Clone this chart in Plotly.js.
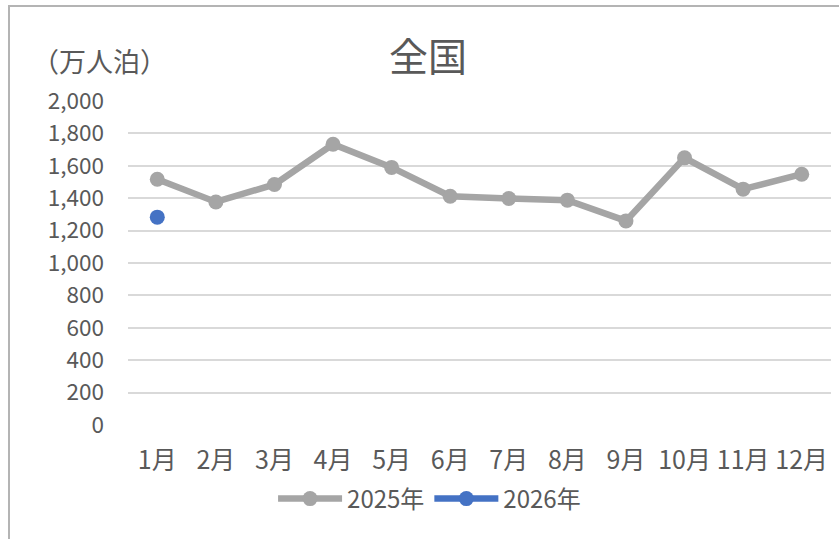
<!DOCTYPE html>
<html>
<head>
<meta charset="utf-8">
<script src="https://cdn.plot.ly/plotly-3.0.1.min.js"></script>
<style>
html,body{margin:0;padding:0;background:#fff;}
#chart{width:839px;height:539px;}
</style>
</head>
<body>
<div id="chart"></div>
<script>
const months = ["1月","2月","3月","4月","5月","6月","7月","8月","9月","10月","11月","12月"];
const values2025 = [1517, 1377, 1485, 1733, 1590, 1412, 1398, 1388, 1260, 1649, 1456, 1548];
const months2026 = ["1月"];
const values2026 = [1283];
const yTicks = [0, 200, 400, 600, 800, 1000, 1200, 1400, 1600, 1800, 2000];

const FONT = '"Noto Sans CJK JP", "Noto Sans", sans-serif';
const TXT = '#595959';

const traces = [
  {
    x: months, y: values2025, name: '2025年', type: 'scatter', mode: 'lines+markers',
    line: {color: '#A5A5A5', width: 6.5},
    marker: {color: '#A5A5A5', size: 15}
  },
  {
    x: months2026, y: values2026, name: '2026年', type: 'scatter', mode: 'lines+markers',
    line: {color: '#4472C4', width: 6.5},
    marker: {color: '#4472C4', size: 15}
  }
];

const layout = {
  width: 839, height: 539,
  margin: {l: 128, r: 8, t: 101, b: 114},
  paper_bgcolor: '#ffffff', plot_bgcolor: '#ffffff',
  font: {family: FONT, color: TXT, size: 24},
  showlegend: true,
  title: {text: '全国', font: {family: FONT, size: 39, color: TXT}, xref: 'container', x: 0.51, xanchor: 'center', yref: 'container', y: 1 - 57/539, yanchor: 'middle'},
  xaxis: {
    type: 'category', categoryorder: 'array', categoryarray: months, range: [-0.5, 11.5],
    showgrid: false, zeroline: false, showline: false, ticks: '',
    tickfont: {family: FONT, size: 25, color: TXT},
    ticklabelstandoff: 18, fixedrange: true
  },
  yaxis: {
    range: [0, 2000], tickvals: yTicks, ticktext: yTicks.map(v => v.toLocaleString('en-US')),
    showgrid: true, gridcolor: '#D9D9D9', gridwidth: 2,
    zeroline: false, showline: false, ticks: '',
    tickfont: {family: FONT, size: 22.5, color: TXT},
    ticklabelstandoff: 23, fixedrange: true
  },
  legend: {
    orientation: 'h', xref: 'container', x: 0.512, xanchor: 'center', yref: 'container', y: 1 - 499/539, yanchor: 'middle',
    font: {family: FONT, size: 24, color: TXT}, itemwidth: 64, traceorder: 'normal'
  },
  annotations: [
    {text: '（万人泊）', xref: 'paper', yref: 'paper', x: (30-128)/703, y: 1 + (101-60)/324, xanchor: 'left', yanchor: 'middle', showarrow: false, font: {family: FONT, size: 27, color: TXT}}
  ],
  shapes: [
    {type: 'rect', xref: 'paper', yref: 'paper', x0: (9-128)/703, x1: 1.2, y0: -1, y1: 1 + (101-6)/324, line: {color: '#B4B4B4', width: 2}, fillcolor: 'rgba(0,0,0,0)', layer: 'below'}
  ]
};

Plotly.newPlot('chart', traces, layout, {displayModeBar: false, staticPlot: true});
</script>
</body>
</html>
